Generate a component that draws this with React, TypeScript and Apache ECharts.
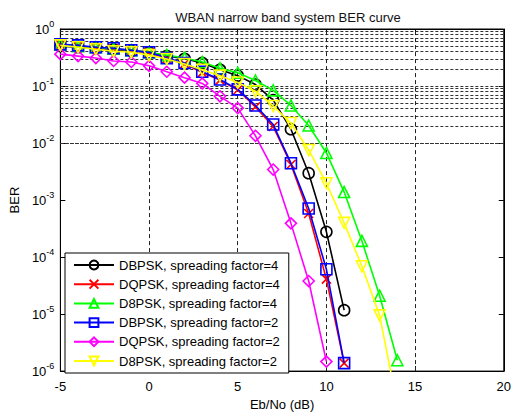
import React, { useEffect, useRef } from "react";
import * as echarts from "echarts";

const FONT = "'Liberation Sans', Arial, sans-serif";

const ebno = [-5, -4, -3, -2, -1, 0, 1, 2, 3, 4, 5, 6, 7, 8, 9, 10, 11, 12, 13, 14];

const dbpskSf4 = [0.5, 0.48, 0.46, 0.44, 0.41, 0.39, 0.335, 0.3, 0.254, 0.193, 0.152, 0.106, 0.0566, 0.0175, 0.00296, 2.77e-4, 1.17e-5];
const dqpskSf4 = [0.53, 0.51, 0.47, 0.45, 0.42, 0.385, 0.3, 0.245, 0.172, 0.127, 0.085, 0.043, 0.0195, 0.0042, 5.8e-4, 4.1e-5, 1.38e-6];
const d8pskSf4 = [0.538, 0.497, 0.478, 0.45, 0.424, 0.39, 0.348, 0.31, 0.264, 0.204, 0.171, 0.125, 0.084, 0.0456, 0.0203, 0.0067, 0.00138, 1.92e-4, 2.1e-5, 1.55e-6];
const dbpskSf2 = [0.538, 0.517, 0.478, 0.459, 0.424, 0.392, 0.309, 0.254, 0.178, 0.13, 0.0874, 0.0456, 0.0211, 0.00443, 7.1e-4, 6.1e-5, 1.38e-6];
const dqpskSf2 = [0.362, 0.335, 0.31, 0.275, 0.264, 0.226, 0.178, 0.14, 0.111, 0.066, 0.041, 0.0134, 0.00343, 3.9e-4, 3.8e-5, 1.47e-6];
const d8pskSf2 = [0.517, 0.478, 0.441, 0.408, 0.392, 0.348, 0.297, 0.244, 0.193, 0.152, 0.115, 0.081, 0.0447, 0.0224, 0.00755, 0.00197, 3.98e-4, 6.9e-5, 9.5e-6, 2.5e-7];

const seriesNames = [
  "DBPSK, spreading factor=4",
  "DQPSK, spreading factor=4",
  "D8PSK, spreading factor=4",
  "DBPSK, spreading factor=2",
  "DQPSK, spreading factor=2",
  "D8PSK, spreading factor=2",
];
const seriesValues = [dbpskSf4, dqpskSf4, d8pskSf4, dbpskSf2, dqpskSf2, d8pskSf2];
const seriesColors = ["#000000", "#ff0000", "#00ff00", "#0000ff", "#ff00ff", "#ffff00"];
const seriesSymbols = [
  "circle",
  "path://M0,0L10,10M10,0L0,10",
  "triangle",
  "rect",
  "diamond",
  "triangle",
];
const seriesRotate = [0, 0, 0, 0, 0, 180];

const xTicks = [-5, 0, 5, 10, 15, 20];
const xGridVals = [0, 5, 10, 15];
const decades = [-6, -5, -4, -3, -2, -1, 0];
const minorMultipliers = [1, 2, 3, 4, 5, 6, 7, 8, 9];

export default function App() {
  const ref = useRef<HTMLDivElement>(null);
  useEffect(() => {
    if (!ref.current) return;
    const chart = echarts.init(ref.current, null, { renderer: "svg" });
    const hVals: number[] = [];
    decades.slice(0, -1).forEach((d) => {
      minorMultipliers.forEach((m) => {
        if (!(m === 1 && d === -6)) hVals.push(m * Math.pow(10, d));
      });
    });
    const gridLine = { type: [3, 2] as any, color: "#333", width: 1 };
    const series: any[] = seriesNames.map((name, i) => ({
      name,
      type: "line",
      xAxisIndex: 0,
      yAxisIndex: 0,
      data: seriesValues[i].map((v, k) => [ebno[k], v]),
      symbol: seriesSymbols[i],
      symbolSize: i === 1 ? 9 : 11,
      symbolRotate: seriesRotate[i],
      showSymbol: true,
      lineStyle: { color: seriesColors[i], width: 1.6 },
      itemStyle: { color: "rgba(255,255,255,0)", borderColor: seriesColors[i], borderWidth: 1.6 },
      z: 10 + i,
    }));
    series.unshift({
      name: "gridLines",
      type: "line",
      data: [],
      silent: true,
      z: 1,
      markLine: {
        silent: true,
        symbol: "none",
        label: { show: false },
        lineStyle: gridLine,
        data: [
          ...hVals.map((v) => ({ yAxis: v })),
          ...xGridVals.map((v) => ({ xAxis: v, lineStyle: { type: [4, 3], color: "#222", width: 1 } })),
        ],
      },
    });
    const axisLine = { show: true, onZero: false, lineStyle: { color: "#000" } };
    const axisTick = { show: true, inside: true, length: 5, lineStyle: { color: "#000" } };
    chart.setOption({
      animation: false,
      title: {
        text: "WBAN narrow band system BER curve",
        left: 283,
        top: 6,
        textAlign: "center",
        textStyle: { fontFamily: FONT, fontSize: 13, fontWeight: "normal", color: "#111" },
      },
      grid: {
        left: 58,
        right: 6,
        top: 29,
        bottom: 37,
        show: true,
        borderColor: "#000",
        borderWidth: 1,
        backgroundColor: "#fff",
      },
      legend: {
        data: seriesNames,
        orient: "vertical",
        left: 65,
        top: 253,
        itemWidth: 40,
        itemHeight: 11,
        itemGap: 5.2,
        padding: [5, 9, 5, 8],
        backgroundColor: "#fff",
        borderColor: "#000",
        borderWidth: 1,
        textStyle: { fontFamily: FONT, fontSize: 13, color: "#000", lineHeight: 14 },
        z: 50,
      },
      xAxis: [
        {
          type: "value",
          min: -5,
          max: 20,
          interval: 5,
          position: "bottom",
          name: "Eb/No (dB)",
          nameLocation: "middle",
          nameGap: 23,
          nameTextStyle: { fontFamily: FONT, fontSize: 13, color: "#000" },
          axisLine,
          axisTick,
          axisLabel: {
            fontFamily: FONT,
            fontSize: 13,
            color: "#000",
            margin: 9,
            formatter: (v: number) => (xTicks.includes(v) ? String(v) : ""),
          },
          splitLine: { show: false },
        },
        {
          type: "value",
          min: -5,
          max: 20,
          interval: 5,
          position: "top",
          axisLine,
          axisTick,
          axisLabel: { show: false },
          splitLine: { show: false },
        },
      ],
      yAxis: [
        {
          type: "log",
          logBase: 10,
          min: 1e-6,
          max: 1,
          position: "left",
          name: "BER",
          nameLocation: "middle",
          nameGap: 37,
          nameTextStyle: { fontFamily: FONT, fontSize: 13, color: "#000" },
          axisLine,
          axisTick,
          axisLabel: {
            margin: 6,
            formatter: (v: number) => `{b|10}{s|${Math.round(Math.log10(v))}}`,
            rich: {
              b: { fontFamily: FONT, fontSize: 13, color: "#000", lineHeight: 20 },
              s: { fontFamily: FONT, fontSize: 9, color: "#000", verticalAlign: "top", lineHeight: 10 },
            },
          },
          splitLine: { show: false },
        },
        {
          type: "log",
          logBase: 10,
          min: 1e-6,
          max: 1,
          position: "right",
          axisLine,
          axisTick,
          axisLabel: { show: false },
          splitLine: { show: false },
        },
      ],
      series,
    });
    return () => chart.dispose();
  }, []);
  return (
    <div
      ref={ref}
      style={{ position: "fixed", left: 0, top: 0, width: 514, height: 416, background: "#fff" }}
    />
  );
}
